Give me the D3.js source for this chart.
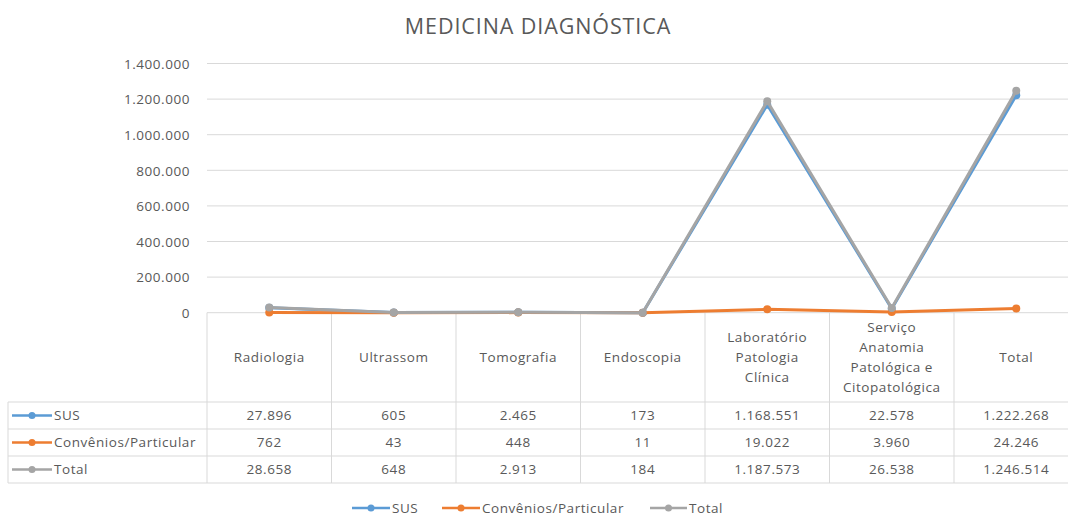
<!DOCTYPE html>
<html>
<head>
<meta charset="utf-8">
<script src="https://cdn.jsdelivr.net/npm/d3@7"></script>
<style>
  html, body { margin: 0; padding: 0; background: #ffffff; }
  svg { display: block; }
  text { font-family: "Open Sans", "Noto Sans", sans-serif; fill: #595959; }
  .small { font-size: 13.5px; letter-spacing: 0.55px; }
</style>
</head>
<body>
<svg id="chart" width="1068" height="516"></svg>
<script>
// Exam categories (header lines of the data table)
const categories = [
  ["Radiologia"],
  ["Ultrassom"],
  ["Tomografia"],
  ["Endoscopia"],
  ["Laboratório", "Patologia", "Clínica"],
  ["Serviço", "Anatomia", "Patológica e", "Citopatológica"],
  ["Total"]
];

const seriesNames = ["SUS", "Convênios/Particular", "Total"];
const seriesColors = ["#5B9BD5", "#ED7D31", "#A5A5A5"];

const susValues = [27896, 605, 2465, 173, 1168551, 22578, 1222268];
const convValues = [762, 43, 448, 11, 19022, 3960, 24246];
const totalValues = [28658, 648, 2913, 184, 1187573, 26538, 1246514];

const yTicks = [0, 200000, 400000, 600000, 800000, 1000000, 1200000, 1400000];

const title = "MEDICINA DIAGNÓSTICA";

// pt-BR number format: "." as thousands separator
const ptBR = d3.formatLocale({ decimal: ",", thousands: ".", grouping: [3], currency: ["R$", ""] });
const fmt = ptBR.format(",d");

const seriesValues = [susValues, convValues, totalValues];

const svg = d3.select("#chart");

const plotLeft = 207, colW = 124.5;
const plotRight = plotLeft + colW * categories.length;
const yZero = 312.7, yTop = 63.5;

const x = d3.scaleBand()
  .domain(d3.range(categories.length))
  .range([plotLeft, plotRight])
  .padding(0);

const y = d3.scaleLinear()
  .domain([0, 1400000])
  .range([yZero, yTop]);

const gridColor = "#D9D9D9";

// Title
svg.append("text")
  .attr("x", 538)
  .attr("y", 34)
  .attr("text-anchor", "middle")
  .style("font-size", "21.5px")
  .style("letter-spacing", "0.9px")
  .text(title);

// Horizontal gridlines
svg.append("g")
  .selectAll("line")
  .data(yTicks.filter(d => d > 0))
  .join("line")
  .attr("x1", plotLeft)
  .attr("x2", plotRight)
  .attr("y1", d => y(d))
  .attr("y2", d => y(d))
  .attr("stroke", gridColor)
  .attr("stroke-width", 1);

// Y axis labels
const yAxis = d3.axisLeft(y)
  .tickValues(yTicks)
  .tickFormat(d => fmt(d))
  .tickSize(0)
  .tickPadding(0);

const yAxisG = svg.append("g")
  .attr("transform", `translate(190,0)`)
  .call(yAxis);
yAxisG.select(".domain").remove();
yAxisG.selectAll("text")
  .attr("class", "small")
  .style("font-family", "\"Open Sans\", sans-serif")
  .style("font-size", null)
  .attr("font-size", null)
  .attr("fill", "#595959")
  .attr("dy", "0.35em");

// Data table
const headerBottom = 402, rowH = 27;
const tableBottom = headerBottom + rowH * seriesNames.length;
const tableLeft = 8;

const table = svg.append("g");

// Category axis line (top of the header)
table.append("line")
  .attr("x1", plotLeft).attr("x2", plotRight)
  .attr("y1", yZero).attr("y2", yZero)
  .attr("stroke", gridColor);

// Vertical column separators
table.selectAll("line.vsep")
  .data(d3.range(categories.length + 1))
  .join("line")
  .attr("class", "vsep")
  .attr("x1", i => plotLeft + i * colW)
  .attr("x2", i => plotLeft + i * colW)
  .attr("y1", yZero)
  .attr("y2", tableBottom)
  .attr("stroke", gridColor);

// Row separators
table.selectAll("line.hsep")
  .data(d3.range(seriesNames.length + 1))
  .join("line")
  .attr("class", "hsep")
  .attr("x1", tableLeft)
  .attr("x2", plotRight)
  .attr("y1", i => headerBottom + i * rowH)
  .attr("y2", i => headerBottom + i * rowH)
  .attr("stroke", gridColor);

table.append("line")
  .attr("x1", tableLeft).attr("x2", tableLeft)
  .attr("y1", headerBottom).attr("y2", tableBottom)
  .attr("stroke", gridColor);

// Header labels
const headerMid = (yZero + headerBottom) / 2;
const lineH = 20;
const headers = table.selectAll("text.hdr")
  .data(categories)
  .join("text")
  .attr("class", "hdr small")
  .attr("text-anchor", "middle");
headers.each(function (lines, i) {
  const t = d3.select(this);
  const start = headerMid - (lines.length - 1) * lineH / 2;
  lines.forEach((ln, k) => {
    t.append("tspan")
      .attr("x", x(i) + x.bandwidth() / 2)
      .attr("y", start + k * lineH)
      .attr("dy", "0.35em")
      .text(ln);
  });
});

// Value cells and legend keys
seriesNames.forEach((name, s) => {
  const rowMid = headerBottom + rowH * s + rowH / 2;
  table.selectAll(null)
    .data(seriesValues[s])
    .join("text")
    .attr("class", "small")
    .attr("x", (d, i) => x(i) + x.bandwidth() / 2)
    .attr("y", rowMid)
    .attr("dy", "0.35em")
    .attr("text-anchor", "middle")
    .text(d => fmt(d));

  const key = table.append("g").attr("transform", `translate(12,${rowMid})`);
  key.append("line").attr("x1", 0).attr("x2", 40).attr("y1", 0).attr("y2", 0)
    .attr("stroke", seriesColors[s]).attr("stroke-width", 2.5);
  key.append("circle").attr("cx", 20).attr("cy", 0).attr("r", 3.5)
    .attr("fill", seriesColors[s]);
  key.append("text").attr("class", "small").attr("x", 42).attr("y", 0).attr("dy", "0.35em")
    .text(name);
});

// Series lines and markers
const line = d3.line()
  .x((d, i) => x(i) + x.bandwidth() / 2)
  .y(d => y(d));

const seriesG = svg.append("g");
seriesValues.forEach((vals, s) => {
  seriesG.append("path")
    .datum(vals)
    .attr("d", line)
    .attr("fill", "none")
    .attr("stroke", seriesColors[s])
    .attr("stroke-width", 3)
    .attr("stroke-linejoin", "round")
    .attr("stroke-linecap", "round");
  seriesG.selectAll(null)
    .data(vals)
    .join("circle")
    .attr("cx", (d, i) => x(i) + x.bandwidth() / 2)
    .attr("cy", d => y(d))
    .attr("r", 4)
    .attr("fill", seriesColors[s]);
});

// Bottom legend
const legendItems = [
  { x: 352, w: 38 },
  { x: 442, w: 38 },
  { x: 650, w: 37 }
];
const legend = svg.append("g").attr("transform", "translate(0,508)");
seriesNames.forEach((name, s) => {
  const it = legendItems[s];
  legend.append("line").attr("x1", it.x).attr("x2", it.x + it.w)
    .attr("y1", 0).attr("y2", 0)
    .attr("stroke", seriesColors[s]).attr("stroke-width", 2.5);
  legend.append("circle").attr("cx", it.x + it.w / 2).attr("cy", 0).attr("r", 3.5)
    .attr("fill", seriesColors[s]);
  legend.append("text").attr("class", "small").attr("x", it.x + it.w + 2).attr("y", 0).attr("dy", "0.35em")
    .text(name);
});
</script>
</body>
</html>
